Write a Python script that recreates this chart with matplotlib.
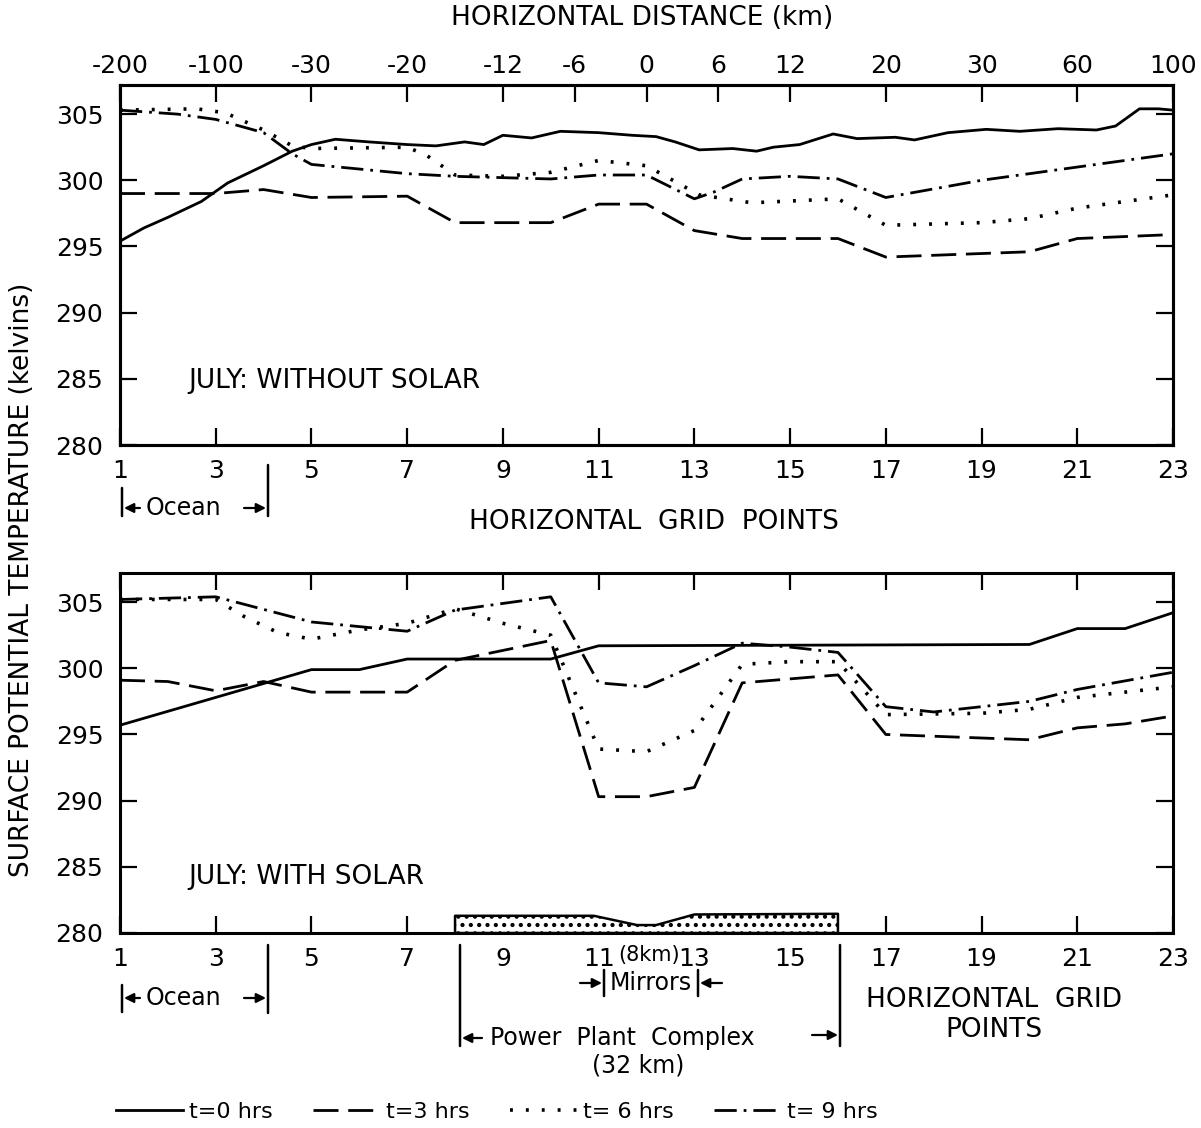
import matplotlib
matplotlib.use('Agg')
import matplotlib.pyplot as plt

# ---------------- data ----------------
grid_ticks = [1, 3, 5, 7, 9, 11, 13, 15, 17, 19, 21, 23]
grid_labels = ['1', '3', '5', '7', '9', '11', '13', '15', '17', '19', '21', '23']
km_positions = [1, 3, 5, 7, 9, 10.5, 12, 13.5, 15, 17, 19, 21, 23]
km_labels = ['-200', '-100', '-30', '-20', '-12', '-6', '0', '6', '12', '20', '30', '60', '100']
temp_ticks = [280, 285, 290, 295, 300, 305]

# Top panel: July without solar
top_t0_x = [1, 1.5, 2, 2.7, 3.25, 4, 4.6, 5, 5.5, 6.2, 7, 7.6, 8.2, 8.6, 9, 9.6, 10.2, 11, 11.7,
            12.2, 12.6, 13.1, 13.8, 14.3, 14.65, 15.2, 15.9, 16.4, 17.2, 17.6, 18.3, 19.1, 19.8,
            20.6, 21.4, 21.8, 22.3, 22.7, 23]
top_t0_y = [295.4, 296.4, 297.2, 298.4, 299.8, 301.1, 302.2, 302.7, 303.1, 302.9, 302.7, 302.6,
            302.9, 302.7, 303.4, 303.2, 303.7, 303.6, 303.4, 303.3, 302.9, 302.3, 302.4, 302.2,
            302.5, 302.7, 303.5, 303.15, 303.25, 303.05, 303.6, 303.85, 303.7, 303.9, 303.8,
            304.1, 305.4, 305.4, 305.3]
top_t3_x = [1, 3, 4, 5, 7, 8, 10, 11, 12, 13, 14, 16, 17, 20, 21, 23]
top_t3_y = [299.0, 299.0, 299.3, 298.7, 298.8, 296.8, 296.8, 298.2, 298.2, 296.2, 295.6, 295.6,
            294.2, 294.6, 295.6, 295.9]
top_t6_x = [1, 2.6, 3.2, 4, 4.6, 5, 7, 7.4, 8, 9, 10, 11, 12, 13.1, 14.2, 16, 17, 19, 20, 21, 23]
top_t6_y = [305.3, 305.4, 305.1, 303.8, 302.6, 302.4, 302.5, 301.9, 300.4, 300.3, 300.6, 301.5,
            301.1, 298.9, 298.3, 298.6, 296.6, 296.8, 297.1, 297.9, 298.9]
top_t9_x = [1, 2.2, 3, 4, 4.6, 5, 7, 8, 10, 11, 12, 13, 13.4, 14, 15, 16, 17, 19, 21, 23]
top_t9_y = [305.3, 305.0, 304.6, 303.6, 302.0, 301.2, 300.5, 300.3, 300.1, 300.4, 300.4, 298.6,
            299.1, 300.1, 300.3, 300.1, 298.7, 300.0, 301.0, 302.0]

# Bottom panel: July with solar
bot_t0_x = [1, 5, 6, 7, 10, 11, 20, 21, 22, 23]
bot_t0_y = [295.7, 299.9, 299.9, 300.7, 300.7, 301.7, 301.8, 303.0, 303.0, 304.2]
bot_t3_x = [1, 2, 3, 4, 5, 7, 8, 10, 11, 12, 13, 14, 16, 17, 20, 21, 22, 23]
bot_t3_y = [299.1, 299.0, 298.3, 299.0, 298.2, 298.2, 300.6, 302.1, 290.3, 290.3, 291.0, 298.9,
            299.5, 295.0, 294.6, 295.5, 295.8, 296.4]
bot_t6_x = [1, 3, 3.6, 4.3, 5, 6, 7, 8, 9, 10, 11, 12, 13, 14, 15, 16, 17, 19, 20, 21, 23]
bot_t6_y = [305.2, 305.2, 303.9, 302.7, 302.2, 302.9, 303.4, 304.5, 303.4, 302.5, 293.9, 293.7,
            295.3, 300.3, 300.5, 300.5, 296.5, 296.6, 296.9, 297.8, 298.6]
bot_t9_x = [1, 3, 5, 7, 8, 10, 11, 12, 13, 14, 15, 16, 17, 18, 20, 21, 23]
bot_t9_y = [305.2, 305.4, 303.5, 302.8, 304.4, 305.4, 298.9, 298.6, 300.2, 301.9, 301.6, 301.2,
            297.1, 296.7, 297.5, 298.4, 299.7]

# Mirror / power-plant block outline
plant_x = [8, 10.9, 11.8, 12.2, 13, 16]
plant_top = [281.3, 281.3, 280.6, 280.6, 281.4, 281.45]

legend_labels = ['t=0 hrs', 't=3 hrs', 't= 6 hrs', 't= 9 hrs']

# ---------------- figure ----------------
W, H = 1201, 1128
plt.rcParams['font.family'] = ['DejaVu Sans']
plt.rcParams['hatch.linewidth'] = 1.8
fig = plt.figure(figsize=(W / 100, H / 100), dpi=100)

def fx(px):
    return px / W

def fy(py):
    return 1 - py / H

ax1 = fig.add_axes([fx(120), fy(445), (1173 - 120) / W, (445 - 85) / H])
ax2 = fig.add_axes([fx(120), fy(933), (1173 - 120) / W, (933 - 573) / H])

styles = [
    dict(linestyle='-', lw=2.0),
    dict(linestyle=(0, (9, 3.5)), lw=2.0),
    dict(linestyle=(0, (0.8, 3.6)), lw=2.6),
    dict(linestyle=(0, (8, 2.5, 1, 2.5)), lw=2.0),
]

top_series = [(top_t0_x, top_t0_y), (top_t3_x, top_t3_y), (top_t6_x, top_t6_y), (top_t9_x, top_t9_y)]
bot_series = [(bot_t0_x, bot_t0_y), (bot_t3_x, bot_t3_y), (bot_t6_x, bot_t6_y), (bot_t9_x, bot_t9_y)]

for (xs, ys), st in zip(top_series, styles):
    ax1.plot(xs, ys, color='black', **st)
handles = []
for (xs, ys), st, lab in zip(bot_series, styles, legend_labels):
    h, = ax2.plot(xs, ys, color='black', label=lab, **st)
    handles.append(h)

ax2.fill_between(plant_x, 280, plant_top, facecolor='white', edgecolor='black',
                 hatch='..', linewidth=1.8, zorder=3)

for ax in (ax1, ax2):
    ax.set_xlim(1, 23)
    ax.set_ylim(280, 307.2)
    ax.set_yticks(temp_ticks)
    ax.set_yticklabels([str(t) for t in temp_ticks])
    ax.set_xticks(grid_ticks)
    ax.tick_params(direction='in', length=12, width=1.6, labelsize=18,
                   left=True, right=True, top=True, bottom=True, labeltop=False, labelright=False)
    ax.tick_params(axis='y', pad=12)
    for sp in ax.spines.values():
        sp.set_linewidth(2.2)

ax1.set_xticklabels(grid_labels)
ax1.tick_params(axis='x', pad=10)
ax1.tick_params(axis='x', top=False)
ax_top = ax1.twiny()
ax_top.set_xlim(1, 23)
ax_top.set_xticks(km_positions)
ax_top.set_xticklabels(km_labels)
ax_top.tick_params(direction='in', length=12, width=1.6, labelsize=18, pad=5)
for sp in ax_top.spines.values():
    sp.set_linewidth(2.2)

ax2.set_xticklabels(grid_labels)
ax2.tick_params(axis='x', pad=10)

# panel texts
ax1.text(0.065, 0.178, 'JULY: WITHOUT SOLAR', transform=ax1.transAxes, fontsize=19, va='center')
ax2.text(0.065, 0.156, 'JULY: WITH SOLAR', transform=ax2.transAxes, fontsize=19, va='center')

fig.text(fx(642), fy(18), 'HORIZONTAL DISTANCE (km)', ha='center', va='center', fontsize=19)
fig.text(fx(654), fy(522), 'HORIZONTAL  GRID  POINTS', ha='center', va='center', fontsize=19)
fig.text(fx(22), fy(580), 'SURFACE POTENTIAL TEMPERATURE (kelvins)', rotation=90,
         ha='center', va='center', fontsize=19)
fig.text(fx(994), fy(1000), 'HORIZONTAL  GRID', ha='center', va='center', fontsize=19)
fig.text(fx(994), fy(1030), 'POINTS', ha='center', va='center', fontsize=19)

def seg(x0, y0, x1, y1):
    ax1.annotate('', xy=(x1, H - y1), xycoords='figure pixels', xytext=(x0, H - y0),
                 textcoords='figure pixels', arrowprops=dict(arrowstyle='-', lw=1.8, color='black',
                                                             shrinkA=0, shrinkB=0))

def arr(x0, y0, x1, y1):
    ax1.annotate('', xy=(x1, H - y1), xycoords='figure pixels', xytext=(x0, H - y0),
                 textcoords='figure pixels',
                 arrowprops=dict(arrowstyle='-|>', lw=1.6, color='black', mutation_scale=14,
                                 shrinkA=0, shrinkB=0))

def label(x, y, s, size=17):
    fig.text(fx(x), fy(y), s, ha='center', va='center', fontsize=size)

# Ocean annotation (top)
seg(122, 488, 122, 516)
seg(268, 465, 268, 516)
arr(140, 508, 124, 508)
arr(244, 508, 266, 508)
label(183, 508, 'Ocean')

# Ocean annotation (bottom)
seg(122, 985, 122, 1012)
seg(268, 945, 268, 1013)
arr(140, 998, 124, 998)
arr(244, 998, 266, 998)
label(183, 998, 'Ocean')

# (8km) between 11 and 13
label(649, 955, '(8km)', 15)

# Mirrors
seg(604, 970, 604, 996)
seg(698, 970, 698, 996)
arr(580, 983, 602, 983)
arr(722, 983, 700, 983)
label(651, 983, 'Mirrors', 17)

# Power plant complex
seg(460, 945, 460, 1046)
seg(840, 945, 840, 1046)
arr(482, 1038, 462, 1038)
arr(812, 1035, 838, 1035)
fig.text(fx(490), fy(1038), 'Power  Plant  Complex', ha='left', va='center', fontsize=17)
label(638, 1066, '(32 km)', 17)

fig.legend(handles, legend_labels, loc='center', bbox_to_anchor=(fx(497), fy(1112)), ncol=4,
           frameon=False, fontsize=16, handlelength=3.0, columnspacing=1.8, handletextpad=0.3)

fig.savefig('out.png', dpi=100)
